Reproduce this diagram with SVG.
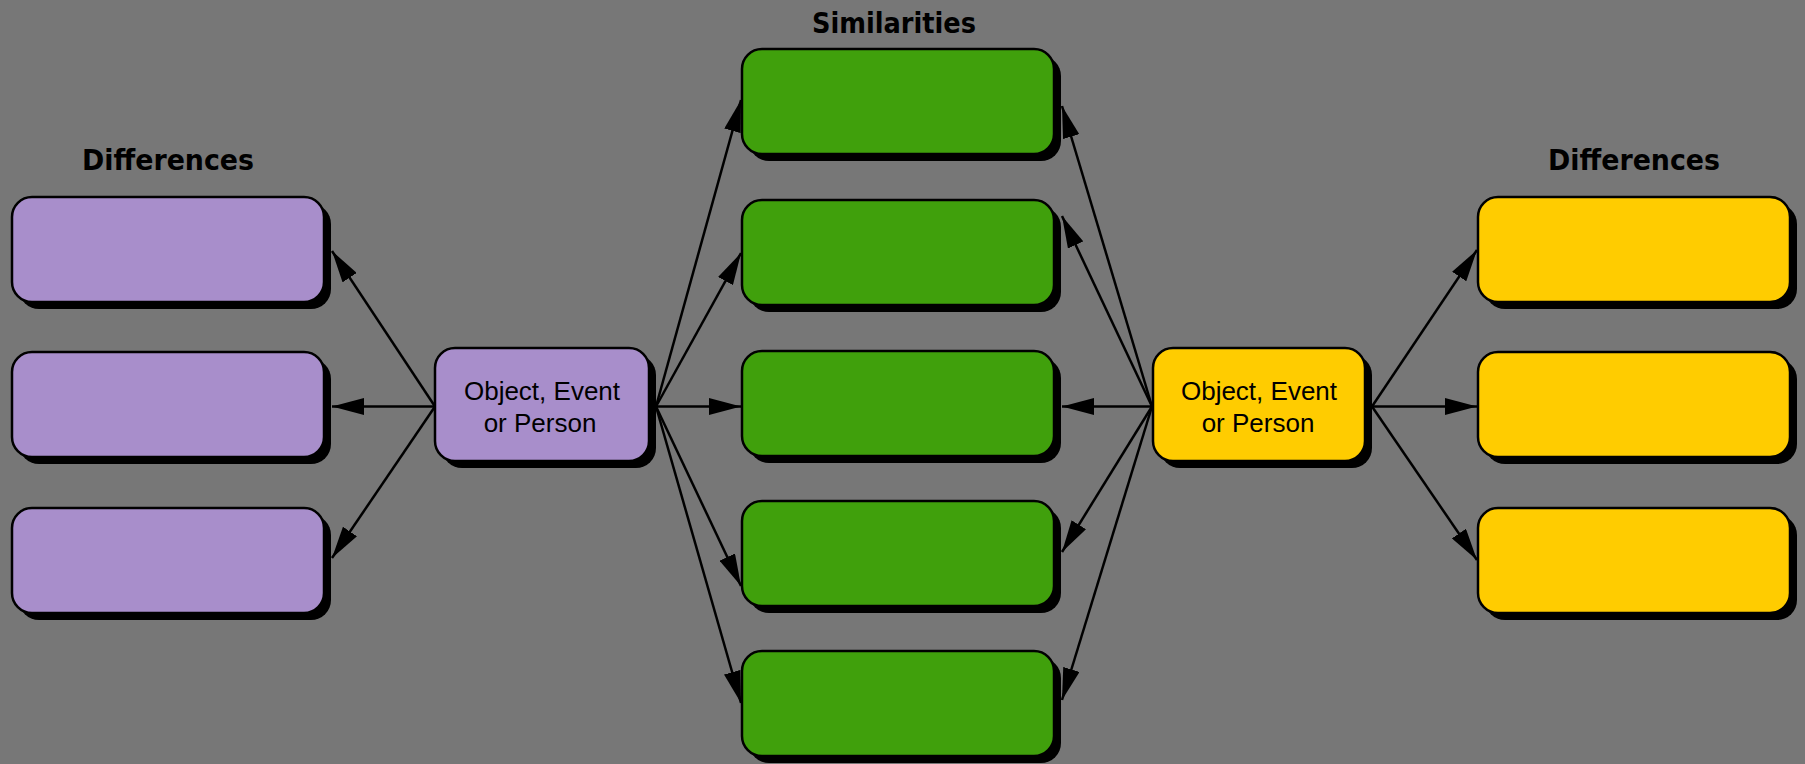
<svg xmlns="http://www.w3.org/2000/svg" width="1805" height="764" viewBox="0 0 1805 764">
  <style>
    .shadow { fill: #000; }
    .box { stroke: #000; stroke-width: 2.5; }
    .purple { fill: #A88ECB; }
    .green { fill: #40A00C; }
    .yellow { fill: #FFCC00; }
    .title { font-family: "DejaVu Sans", "Liberation Sans", sans-serif; font-weight: bold; font-size: 28px; fill: #000; }
    .label { font-family: "Liberation Sans", Arial, sans-serif; font-size: 26px; fill: #000; }
    .conn { stroke: #000; stroke-width: 2.5; fill: none; marker-end: url(#ah); }
  </style>
  <defs>
    <marker id="ah" markerWidth="32" markerHeight="17" refX="32" refY="8.5" orient="auto" markerUnits="userSpaceOnUse">
      <path d="M0,0 L32,8.5 L0,17 z" fill="#000"/>
    </marker>
  </defs>
  <rect x="0" y="0" width="1805" height="764" fill="#777777"/>

  <text class="title" x="168" y="170" text-anchor="middle" textLength="172" lengthAdjust="spacingAndGlyphs">Differences</text>
  <text class="title" x="894" y="33" text-anchor="middle" textLength="164" lengthAdjust="spacingAndGlyphs">Similarities</text>
  <text class="title" x="1634" y="170" text-anchor="middle" textLength="172" lengthAdjust="spacingAndGlyphs">Differences</text>

  <!-- left differences -->
  <g id="ldiff1"><rect class="shadow" x="19" y="204" width="312" height="105" rx="20"/><rect class="box purple" x="12" y="197" width="312" height="105" rx="20"/></g>
  <g id="ldiff2"><rect class="shadow" x="19" y="359" width="312" height="105" rx="20"/><rect class="box purple" x="12" y="352" width="312" height="105" rx="20"/></g>
  <g id="ldiff3"><rect class="shadow" x="19" y="515" width="312" height="105" rx="20"/><rect class="box purple" x="12" y="508" width="312" height="105" rx="20"/></g>

  <!-- left center -->
  <g id="lcenter">
    <rect class="shadow" x="442" y="355" width="214" height="113" rx="20"/>
    <rect class="box purple" x="435" y="348" width="214" height="113" rx="20"/>
    <text class="label" x="542" y="400" text-anchor="middle">Object, Event</text>
    <text class="label" x="540" y="432" text-anchor="middle">or Person</text>
  </g>

  <!-- similarities -->
  <g id="sim1"><rect class="shadow" x="749" y="56" width="312" height="105" rx="20"/><rect class="box green" x="742" y="49" width="312" height="105" rx="20"/></g>
  <g id="sim2"><rect class="shadow" x="749" y="207" width="312" height="105" rx="20"/><rect class="box green" x="742" y="200" width="312" height="105" rx="20"/></g>
  <g id="sim3"><rect class="shadow" x="749" y="358" width="312" height="105" rx="20"/><rect class="box green" x="742" y="351" width="312" height="105" rx="20"/></g>
  <g id="sim4"><rect class="shadow" x="749" y="508" width="312" height="105" rx="20"/><rect class="box green" x="742" y="501" width="312" height="105" rx="20"/></g>
  <g id="sim5"><rect class="shadow" x="749" y="658" width="312" height="105" rx="20"/><rect class="box green" x="742" y="651" width="312" height="105" rx="20"/></g>

  <!-- right center -->
  <g id="rcenter">
    <rect class="shadow" x="1160" y="355" width="212" height="113" rx="20"/>
    <rect class="box yellow" x="1153" y="348" width="212" height="113" rx="20"/>
    <text class="label" x="1259" y="400" text-anchor="middle">Object, Event</text>
    <text class="label" x="1258" y="432" text-anchor="middle">or Person</text>
  </g>

  <!-- right differences -->
  <g id="rdiff1"><rect class="shadow" x="1485" y="204" width="312" height="105" rx="20"/><rect class="box yellow" x="1478" y="197" width="312" height="105" rx="20"/></g>
  <g id="rdiff2"><rect class="shadow" x="1485" y="359" width="312" height="105" rx="20"/><rect class="box yellow" x="1478" y="352" width="312" height="105" rx="20"/></g>
  <g id="rdiff3"><rect class="shadow" x="1485" y="515" width="312" height="105" rx="20"/><rect class="box yellow" x="1478" y="508" width="312" height="105" rx="20"/></g>

  <g id="connectors">
    <line class="conn" x1="435" y1="406.5" x2="332" y2="251"/>
    <line class="conn" x1="435" y1="406.5" x2="332" y2="406.5"/>
    <line class="conn" x1="435" y1="406.5" x2="332" y2="558"/>

    <line class="conn" x1="656" y1="406.5" x2="741" y2="100"/>
    <line class="conn" x1="656" y1="406.5" x2="741" y2="253"/>
    <line class="conn" x1="656" y1="406.5" x2="741" y2="406.5"/>
    <line class="conn" x1="656" y1="406.5" x2="741" y2="586"/>
    <line class="conn" x1="656" y1="406.5" x2="741" y2="703"/>

    <line class="conn" x1="1152" y1="406.5" x2="1062" y2="106"/>
    <line class="conn" x1="1152" y1="406.5" x2="1062" y2="216"/>
    <line class="conn" x1="1152" y1="406.5" x2="1062" y2="406.5"/>
    <line class="conn" x1="1152" y1="406.5" x2="1062" y2="552"/>
    <line class="conn" x1="1152" y1="406.5" x2="1062" y2="700"/>

    <line class="conn" x1="1372" y1="406.5" x2="1477" y2="250"/>
    <line class="conn" x1="1372" y1="406.5" x2="1477" y2="406.5"/>
    <line class="conn" x1="1372" y1="406.5" x2="1477" y2="560"/>
  </g>
</svg>
